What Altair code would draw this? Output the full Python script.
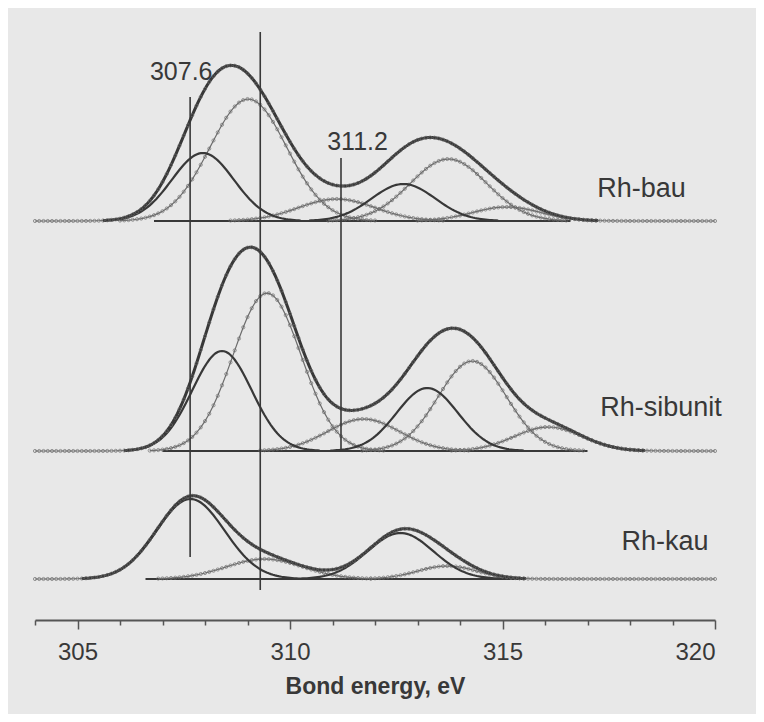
import altair as alt
import numpy as np
import pandas as pd

# ---------------- data ----------------
x_min, x_max = 304.0, 320.0

spectra = ["Rh-bau", "Rh-sibunit", "Rh-kau"]
offsets = [399, 169, 41]                      # vertical stacking offset (a.u.)
base_lo = [306.8, 307.0, 306.6]
base_hi = [316.6, 317.0, 315.4]

# fitted components: centre (eV), height (a.u.), width sigma (eV), style
bau_centers = [307.95, 309.02, 311.10, 312.67, 313.73, 315.10]
bau_heights = [68, 122, 22, 37, 62, 14]
bau_sigmas = [0.73, 0.90, 0.90, 0.75, 0.90, 0.80]
bau_styles = ["dark", "grey", "grey", "dark", "grey", "grey"]

sib_centers = [308.40, 309.46, 311.73, 313.23, 314.29, 316.08]
sib_heights = [100, 158, 32, 63, 90, 24]
sib_sigmas = [0.70, 0.80, 0.85, 0.72, 0.80, 0.80]
sib_styles = ["dark", "grey", "grey", "dark", "grey", "grey"]

kau_centers = [307.66, 309.40, 312.60, 313.70]
kau_heights = [80, 20, 46, 13]
kau_sigmas = [0.80, 0.90, 0.77, 0.70]
kau_styles = ["dark", "grey", "dark", "grey"]

# marker lines and their labels
line_x = [307.65, 309.3, 311.2]
line_y_lo = [63, 30, 169]
line_y_hi = [523, 588, 462]
ann_text = ["307.6", "311.2"]
ann_x = [307.44, 311.59]
ann_y = [548, 478]

label_x = [317.23, 317.30, 317.80]
label_y = [431, 212, 78]

tick_values = list(range(304, 321))

# ---------------- build tables ----------------
params = [
    (bau_centers, bau_heights, bau_sigmas, bau_styles),
    (sib_centers, sib_heights, sib_sigmas, sib_styles),
    (kau_centers, kau_heights, kau_sigmas, kau_styles),
]

exp_x = np.round(np.arange(x_min, x_max + 1e-9, 0.1), 2)
fine_x = np.round(np.arange(x_min, x_max + 1e-9, 0.05), 3)
THR = 0.4


def peak(x, c, h, s):
    return h * np.exp(-0.5 * ((x - c) / s) ** 2)


env_rows, exp_rows, dark_rows, grey_rows, base_rows = [], [], [], [], []
for i, name in enumerate(spectra):
    cs, hs, ss, st = params[i]
    off = offsets[i]
    env_f = sum(peak(fine_x, c, h, s) for c, h, s in zip(cs, hs, ss))
    env_e = sum(peak(exp_x, c, h, s) for c, h, s in zip(cs, hs, ss))
    for xv, yv in zip(fine_x, env_f):
        if yv > THR:
            env_rows.append({"x": xv, "y": off + yv, "curve": name + "-env"})
    for xv, yv in zip(exp_x, env_e):
        exp_rows.append({"x": xv, "y": off + yv, "curve": name + "-exp"})
    for k, (c, h, s, sty) in enumerate(zip(cs, hs, ss, st)):
        xs = fine_x if sty == "dark" else exp_x
        for xv in xs:
            yv = peak(xv, c, h, s)
            if yv > THR:
                row = {"x": xv, "y": off + yv, "curve": f"{name}-{k}"}
                (dark_rows if sty == "dark" else grey_rows).append(row)
    base_rows.append({"x": base_lo[i], "y": off, "curve": name + "-base"})
    base_rows.append({"x": base_hi[i], "y": off, "curve": name + "-base"})

env_df = pd.DataFrame(env_rows)
exp_df = pd.DataFrame(exp_rows)
dark_df = pd.DataFrame(dark_rows)
grey_df = pd.DataFrame(grey_rows)
base_df = pd.DataFrame(base_rows)
rule_df = pd.DataFrame({"x": line_x, "y": line_y_lo, "y2": line_y_hi})
ann_df = pd.DataFrame({"x": ann_x, "y": ann_y, "t": ann_text})
lab_df = pd.DataFrame({"x": label_x, "y": label_y, "t": spectra})

# ---------------- encodings ----------------
FONT = "Liberation Sans"
DARK = "#383838"
GREY = "#6c6c6c"

X = alt.X(
    "x:Q",
    scale=alt.Scale(domain=[x_min, x_max], nice=False, zero=False),
    axis=alt.Axis(
        values=tick_values,
        labelExpr="datum.value % 5 == 0 ? datum.label : ''",
        labelOverlap=False,
        tickSize={"condition": {"test": "datum.value % 5 === 0", "value": 9}, "value": 5},
        title="Bond energy, eV",
        grid=False,
        domainColor="#555555",
        domainWidth=2,
        tickColor="#555555",
        tickWidth=1.5,
        labelFont=FONT,
        labelFontSize=24,
        labelColor=DARK,
        labelPadding=11,
        titleFont=FONT,
        titleFontSize=23,
        titleFontWeight="bold",
        titleColor=DARK,
        titlePadding=11,
    ),
)
Y = alt.Y("y:Q", scale=alt.Scale(domain=[0, 612], nice=False, zero=False), axis=None)

pt = dict(shape="circle", filled=False, size=10, color=GREY, strokeWidth=1)
exp_line = alt.Chart(exp_df).mark_line(color=GREY, strokeWidth=1).encode(x=X, y=Y, detail="curve:N")
exp_pts = alt.Chart(exp_df).mark_point(**pt).encode(x=X, y=Y)
grey_line = alt.Chart(grey_df).mark_line(color=GREY, strokeWidth=1.2).encode(x=X, y=Y, detail="curve:N")
grey_pts = alt.Chart(grey_df).mark_point(**pt).encode(x=X, y=Y)
dark_line = alt.Chart(dark_df).mark_line(color=DARK, strokeWidth=2.2).encode(x=X, y=Y, detail="curve:N")
env_line = alt.Chart(env_df).mark_line(color=DARK, strokeWidth=3).encode(x=X, y=Y, detail="curve:N")
base_line = alt.Chart(base_df).mark_line(color=DARK, strokeWidth=2.2).encode(x=X, y=Y, detail="curve:N")
rules = alt.Chart(rule_df).mark_rule(color=DARK, strokeWidth=1.6).encode(x=X, y=Y, y2="y2:Q")
ann = alt.Chart(ann_df).mark_text(font=FONT, fontSize=25, color=DARK, align="center", baseline="middle").encode(
    x=X, y=Y, text="t:N"
)
labs = alt.Chart(lab_df).mark_text(font=FONT, fontSize=27, color=DARK, align="left", baseline="middle").encode(
    x=X, y=Y, text="t:N"
)

chart = (
    alt.layer(base_line, grey_line, grey_pts, dark_line, exp_line, env_line, exp_pts, rules, ann, labs)
    .properties(
        width=680,
        height=612,
        background="#e8e8e8",
        padding={"left": 27, "top": 0, "right": 41, "bottom": 94},
        autosize=alt.AutoSizeParams(type="none"),
    )
    .configure_view(stroke=None)
)

chart.save("out.html", embed_options={"renderer": "svg", "actions": False})
